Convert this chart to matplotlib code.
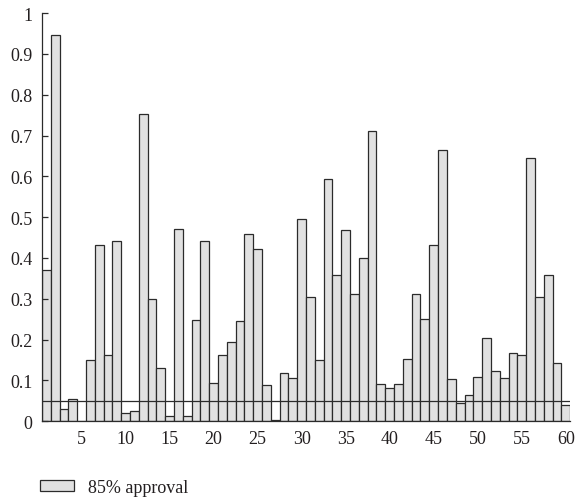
import numpy as np
import matplotlib
matplotlib.use('Agg')
import matplotlib.pyplot as plt
from matplotlib.patches import Patch

# values
runs = np.arange(1, 61)
approval = [0.371, 0.947, 0.029, 0.054, 0.0, 0.151, 0.432, 0.162, 0.441, 0.020,
            0.025, 0.753, 0.300, 0.130, 0.014, 0.472, 0.014, 0.247, 0.441, 0.095,
            0.162, 0.195, 0.246, 0.458, 0.422, 0.090, 0.003, 0.118, 0.105, 0.496,
            0.304, 0.149, 0.593, 0.358, 0.468, 0.312, 0.399, 0.712, 0.091, 0.081,
            0.092, 0.152, 0.312, 0.250, 0.433, 0.664, 0.104, 0.044, 0.065, 0.108,
            0.203, 0.123, 0.107, 0.167, 0.162, 0.646, 0.304, 0.358, 0.143, 0.040]
threshold = 0.05
xticks = [5, 10, 15, 20, 25, 30, 35, 40, 45, 50, 55, 60]
yticks = [0, 0.1, 0.2, 0.3, 0.4, 0.5, 0.6, 0.7, 0.8, 0.9, 1]
ytick_labels = ['0', '0.1', '0.2', '0.3', '0.4', '0.5', '0.6', '0.7', '0.8', '0.9', '1']
legend_label = '85% approval'

plt.rcParams['font.family'] = ['Liberation Serif', 'DejaVu Serif']

fig = plt.figure(figsize=(5.8, 5.02), dpi=100)
ax = fig.add_axes([0.0724, 0.1588, 0.9106, 0.8132])

bar_face = '#e1e1e1'
edge = '#2b2b2b'
ax.bar(runs, approval, width=1.0, color=bar_face, edgecolor=edge, linewidth=0.9)
ax.axhline(threshold, color=edge, linewidth=0.9)

ax.set_xlim(0.5, 60.5)
ax.set_ylim(0, 1)
ax.set_xticks(xticks)
ax.set_yticks(yticks)
ax.set_yticklabels(ytick_labels)

for s in ['top', 'right']:
    ax.spines[s].set_visible(False)
for s in ['left', 'bottom']:
    ax.spines[s].set_color(edge)
    ax.spines[s].set_linewidth(0.9)

ax.tick_params(axis='both', direction='in', length=4, width=0.9, color=edge,
               labelsize=13, labelcolor='#231f20')
ax.tick_params(axis='x', length=0, pad=6)
ax.tick_params(axis='y', pad=7)

handles = [Patch(facecolor=bar_face, edgecolor=edge, linewidth=0.9, label=legend_label)]
fig.legend(handles=handles, loc='center left', bbox_to_anchor=(0.054, 0.027),
           frameon=False, fontsize=13, borderpad=0, handlelength=1.85,
           handleheight=0.6, handletextpad=0.8, labelcolor='#231f20')

fig.savefig('out.png', dpi=100)
